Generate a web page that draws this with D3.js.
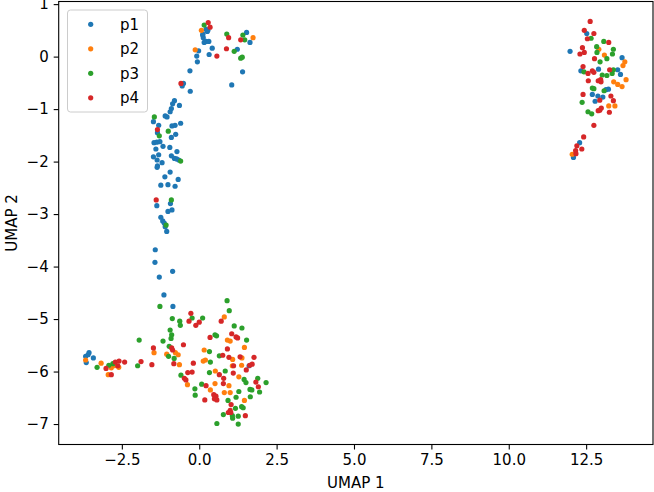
<!DOCTYPE html>
<html><head><meta charset="utf-8">
<script src="https://cdn.jsdelivr.net/npm/d3@7"></script>
<style>body{margin:0;background:#fff}svg{display:block}text{font-family:"DejaVu Sans",sans-serif}</style>
</head><body>
<svg id="c" width="654" height="492"></svg>
<script>
const categories = ["p1","p2","p3","p4"];
const colors = ["#1f77b4","#ff7f0e","#2ca02c","#d62728"];
const xTicks = [-2.5,0,2.5,5,7.5,10,12.5];
const yTicks = [1,0,-1,-2,-3,-4,-5,-6,-7];
const xTitle = "UMAP 1", yTitle = "UMAP 2";

const p1 = [[0.22,0.52],[0.26,0.48],[0.11,0.41],[0.13,0.36],[0.22,0.29],[0.31,0.29],[0.16,0.27],[0.12,0.43],[0.28,0.50],[0.42,0.16],[-0.02,0.11],[-0.08,0.01],[0.32,0.04],[-0.06,-0.10],[-0.30,-0.27],[-0.51,-0.51],[-0.55,-0.56],[-0.29,-0.66],[-0.80,-0.84],[-0.86,-0.90],[-0.64,-0.93],[-0.90,-0.99],[-0.94,-1.05],[-1.10,-1.13],[-1.04,-1.15],[-1.48,-1.24],[-1.31,-1.31],[-0.88,-1.32],[-0.78,-1.31],[-0.60,-1.27],[-1.35,-1.45],[-0.76,-1.48],[-0.90,-1.54],[-1.46,-1.64],[-1.37,-1.63],[-1.27,-1.62],[-1.17,-1.71],[-0.95,-1.73],[-1.40,-1.76],[-0.72,-1.81],[-1.31,-1.87],[-1.48,-1.91],[-0.90,-1.89],[-0.80,-1.94],[-0.73,-1.95],[-0.66,-1.97],[-1.36,-1.97],[-1.20,-2.02],[-1.35,-2.08],[-1.36,-2.11],[-0.94,-2.20],[-1.11,-2.29],[-0.68,-2.34],[-1.24,-2.45],[-1.01,-2.44],[-0.78,-2.47],[-1.37,-2.84],[-0.93,-2.80],[-0.88,-2.92],[-1.01,-2.95],[-1.24,-3.06],[-1.18,-3.13],[-1.13,-3.17],[-1.10,-3.24],[-1.05,-3.33],[-1.42,-3.68],[-1.43,-3.92],[-1.29,-4.20],[-0.86,-4.09],[-1.14,-4.54],[-0.85,-4.76],[1.53,0.46],[1.64,0.27],[1.23,0.14],[1.40,-0.29],[1.05,-0.54],[1.61,-5.89],[-3.67,-5.71],[-3.56,-5.64],[-3.42,-5.74],[-3.65,-5.83],[-3.59,-5.68],[12.52,0.44],[11.98,0.10],[13.66,-0.02],[12.33,-0.27],[12.90,-0.24],[13.52,-0.25],[13.61,-0.34],[13.22,-0.62],[13.14,-0.63],[12.70,-0.72],[12.88,-0.75],[13.04,-0.77],[12.79,-0.85],[12.29,-1.64],[12.09,-1.92]];

const p2 = [[0.07,0.50],[-0.13,0.13],[1.74,0.36],[0.81,-4.96],[0.91,-5.40],[1.00,-5.42],[1.46,-5.54],[-0.77,-5.64],[-0.68,-5.68],[-1.05,-5.67],[-1.46,-5.64],[0.16,-5.59],[1.08,-5.77],[1.38,-5.74],[0.13,-5.80],[0.20,-5.78],[-0.64,-5.87],[1.07,-5.89],[1.37,-5.88],[0.52,-5.99],[1.28,-6.10],[-0.38,-6.25],[0.51,-6.23],[0.96,-6.27],[0.36,-6.35],[0.81,-6.40],[1.00,-6.40],[1.46,-6.55],[-3.67,-5.78],[-3.17,-5.84],[-2.84,-5.93],[-2.60,-5.92],[-2.94,-6.06],[-2.75,-5.89],[12.91,0.14],[13.09,0.03],[13.75,-0.10],[13.69,-0.17],[13.39,-0.48],[13.79,-0.44],[13.52,-0.53],[13.66,-0.57],[13.23,-0.94],[13.43,-0.94],[12.05,-1.86]];

const p3 = [[0.16,0.60],[0.89,0.43],[1.41,0.41],[1.47,0.32],[1.13,0.10],[1.34,-0.03],[1.39,-0.01],[-1.45,-1.15],[-1.00,-1.42],[-1.29,-1.51],[-0.60,-1.99],[-0.90,-2.73],[-1.07,-3.21],[-1.27,-4.76],[0.90,-4.65],[0.97,-4.84],[-0.23,-4.98],[0.11,-4.98],[-0.87,-4.99],[-0.63,-5.04],[-0.61,-5.12],[1.13,-5.13],[1.38,-5.17],[-0.94,-5.21],[-0.89,-5.30],[-0.91,-5.37],[-1.17,-5.42],[-1.94,-5.40],[0.51,-5.30],[0.56,-5.32],[1.53,-5.40],[-0.97,-5.52],[0.33,-5.62],[0.65,-5.70],[-0.99,-5.71],[-0.81,-5.75],[0.36,-5.82],[0.33,-6.02],[0.84,-5.99],[-0.59,-6.07],[1.45,-6.15],[1.51,-6.21],[1.89,-6.13],[2.16,-6.21],[0.08,-6.24],[-0.14,-6.33],[1.64,-6.34],[1.70,-6.35],[1.95,-6.39],[1.28,-6.38],[-0.13,-6.45],[1.19,-6.49],[1.65,-6.48],[0.93,-6.55],[1.37,-6.67],[1.42,-6.69],[1.17,-6.70],[1.07,-6.84],[1.08,-6.89],[1.26,-6.85],[0.78,-6.82],[0.57,-6.99],[1.26,-7.00],[-1.99,-5.89],[-3.30,-5.92],[-2.92,-5.88],[-2.79,-5.85],[12.66,0.35],[12.84,0.19],[12.85,0.08],[13.07,0.29],[13.38,0.14],[13.35,0.05],[13.17,-0.04],[12.95,-0.10],[12.43,-0.29],[13.38,-0.25],[13.34,-0.32],[13.02,-0.35],[13.17,-0.36],[12.70,-0.60],[12.75,-0.61],[13.08,-0.65],[12.37,-0.87],[12.56,-1.05],[12.68,-1.09]];

const p4 = [[0.29,0.65],[0.35,0.56],[0.57,0.01],[0.95,0.36],[1.34,0.32],[0.88,0.15],[-0.59,-0.51],[-1.35,-1.39],[-1.39,-2.73],[-0.27,-4.89],[-0.33,-5.04],[-0.11,-5.12],[0.00,-5.06],[0.71,-5.04],[1.05,-5.28],[0.35,-5.35],[1.19,-5.34],[1.24,-5.36],[-0.51,-5.49],[0.91,-5.57],[-0.89,-5.55],[-0.86,-5.59],[0.76,-5.69],[0.96,-5.73],[1.32,-5.72],[1.77,-5.73],[-0.82,-5.85],[-0.19,-5.84],[1.11,-5.89],[1.63,-5.88],[1.71,-5.86],[1.52,-5.97],[-0.37,-6.02],[-0.23,-6.01],[0.65,-6.06],[1.10,-6.03],[-0.48,-6.13],[-0.43,-6.16],[0.79,-6.13],[1.83,-6.20],[0.22,-6.27],[0.78,-6.23],[1.91,-6.29],[0.47,-6.44],[0.54,-6.47],[0.49,-6.52],[0.57,-6.54],[0.18,-6.54],[1.03,-6.63],[1.00,-6.74],[0.94,-6.78],[1.02,-6.78],[1.49,-6.84],[-1.48,-5.55],[-1.53,-5.87],[-1.88,-5.81],[-3.01,-5.94],[-2.71,-5.82],[-2.59,-5.80],[-2.63,-5.89],[-2.41,-5.82],[-2.84,-6.06],[12.63,0.67],[12.44,0.50],[12.75,0.44],[12.54,0.34],[12.38,0.17],[12.44,0.08],[12.30,0.05],[13.23,0.27],[12.77,-0.04],[12.40,-0.19],[12.56,-0.32],[12.70,-0.27],[12.75,-0.30],[13.26,-0.25],[12.89,-0.46],[12.97,-0.44],[12.98,-0.48],[12.57,-0.46],[12.40,-0.72],[13.30,-0.75],[12.94,-0.83],[13.38,-0.84],[12.99,-0.98],[12.89,-1.03],[12.94,-1.02],[13.25,-1.06],[12.75,-1.31],[12.42,-1.53],[12.20,-1.70],[12.36,-1.76],[12.16,-1.79],[12.17,-1.85]];

const series = [p1,p2,p3,p4];

const svg = d3.select("#c");
const L = 58.7, R = 653, T = 1.5, B = 444.5;
const x = d3.scaleLinear().domain([-4.54,14.66]).range([L,R]);
const y = d3.scaleLinear().domain([-7.39,1.05]).range([B,T]);
const fmtX = d => (d<0?"\u2212":"") + Math.abs(d).toFixed(1);
const fmtY = d => (d<0?"\u2212":"") + Math.abs(d);

const gx = svg.append("g").attr("transform",`translate(0,${B})`)
  .call(d3.axisBottom(x).tickValues(xTicks).tickFormat(fmtX).tickSize(5).tickPadding(5));
const gy = svg.append("g").attr("transform",`translate(${L},0)`)
  .call(d3.axisLeft(y).tickValues(yTicks).tickFormat(fmtY).tickSize(5).tickPadding(5));
[gx,gy].forEach(g=>{
  g.select(".domain").remove();
  g.selectAll("line").attr("stroke","#000").attr("stroke-width",1.1);
  g.selectAll("text").attr("font-size",15).attr("fill","#000").attr("font-family","DejaVu Sans");
});

series.forEach((pts,i)=>{
  svg.append("g").selectAll("circle").data(pts).join("circle")
    .attr("cx",d=>x(d[0])).attr("cy",d=>y(d[1])).attr("r",2.6)
    .attr("fill",colors[i]);
});

svg.append("rect").attr("x",L).attr("y",T).attr("width",R-L).attr("height",B-T)
  .attr("fill","none").attr("stroke","#000").attr("stroke-width",1.1);

svg.append("text").attr("x",(L+R)/2).attr("y",488).attr("text-anchor","middle")
  .attr("font-size",15).text(xTitle);
svg.append("text").attr("transform",`translate(17,${(T+B)/2}) rotate(-90)`)
  .attr("text-anchor","middle").attr("font-size",15).text(yTitle);

const lg = svg.append("g");
lg.append("rect").attr("x",67.5).attr("y",10).attr("width",80).attr("height",102).attr("rx",3)
  .attr("fill","#fff").attr("fill-opacity",0.8).attr("stroke","#ccc").attr("stroke-width",1);
categories.forEach((c,i)=>{
  const cy = 24.3 + i*24.5;
  lg.append("circle").attr("cx",90.7).attr("cy",cy).attr("r",2.6).attr("fill",colors[i]);
  lg.append("text").attr("x",120).attr("y",cy).attr("dy","0.36em").attr("font-size",15).text(c);
});
</script>
</body></html>
